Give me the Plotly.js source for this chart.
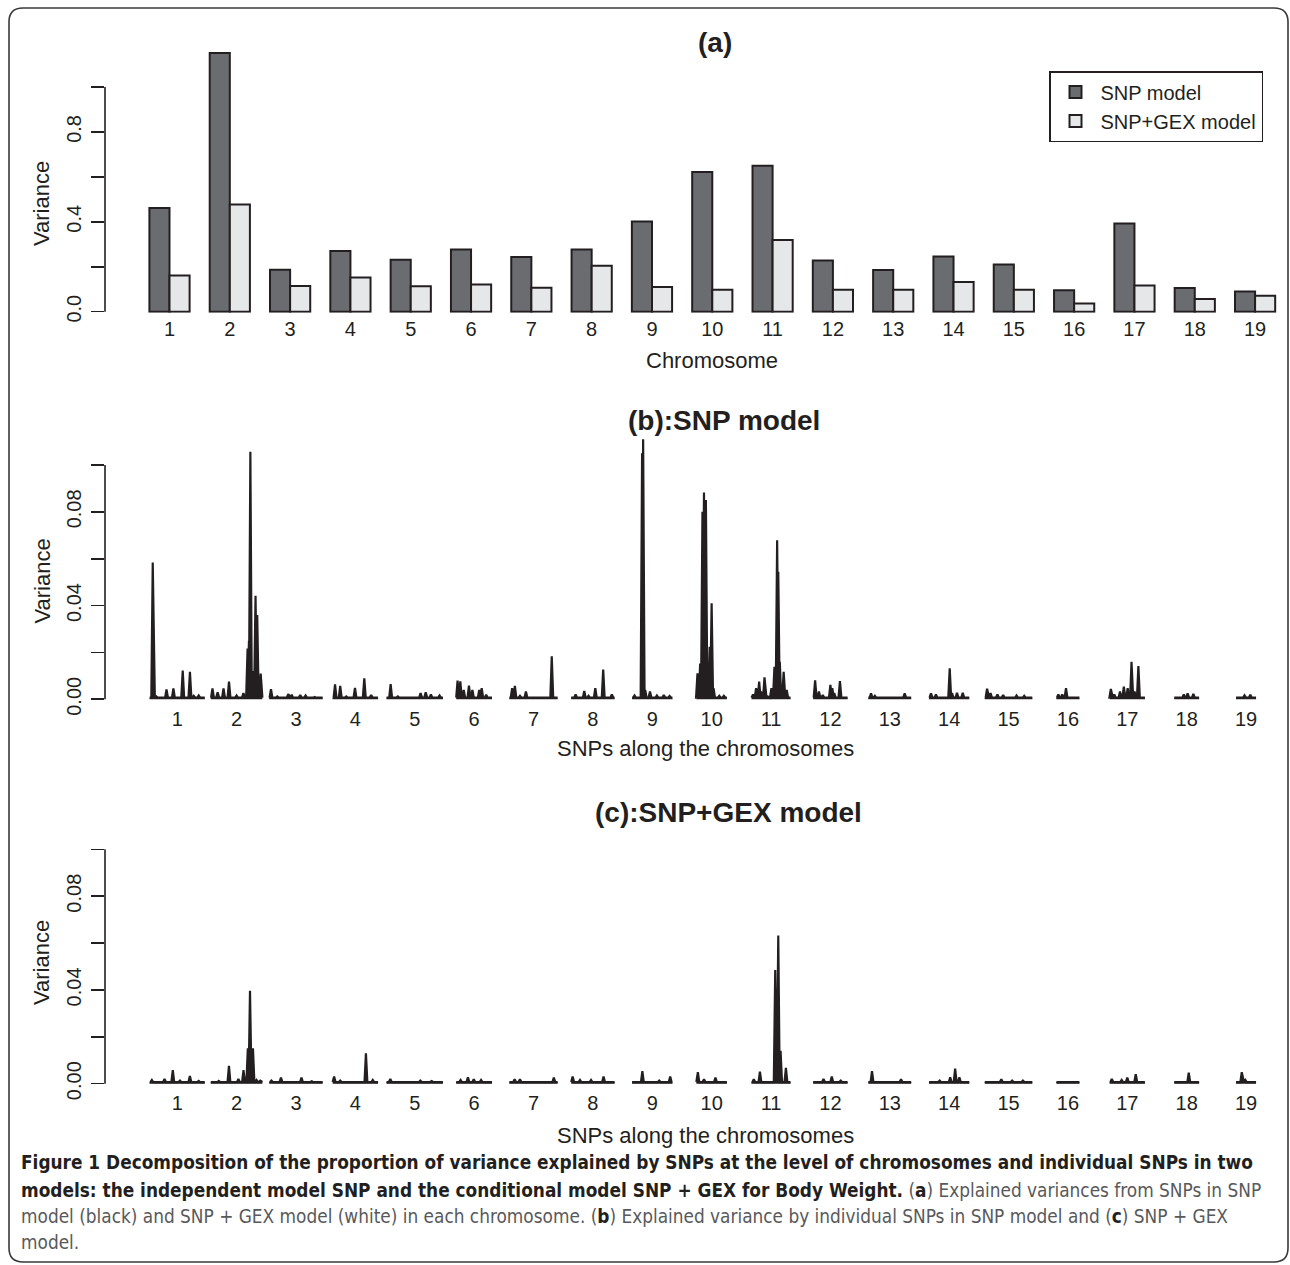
<!DOCTYPE html>
<html><head><meta charset="utf-8">
<script src="https://cdn.plot.ly/plotly-3.0.1.min.js"></script>
<style>html,body{margin:0;padding:0;background:#fff}#chart{width:1290px;height:1265px}</style>
</head><body><div id="chart"></div>
<script>
// ---------------- data ----------------
const chromosomes = [1,2,3,4,5,6,7,8,9,10,11,12,13,14,15,16,17,18,19];
const chromLabels = ['1','2','3','4','5','6','7','8','9','10','11','12','13','14','15','16','17','18','19'];
const seriesNames = ['SNP model', 'SNP+GEX model'];

// (a) variance explained per chromosome
const snpModelChrVar = [0.461,1.151,0.187,0.270,0.231,0.277,0.243,0.277,0.401,0.622,0.650,0.228,0.185,0.246,0.210,0.095,0.393,0.105,0.090];
const gexModelChrVar = [0.161,0.477,0.114,0.152,0.113,0.121,0.107,0.204,0.110,0.098,0.319,0.098,0.098,0.132,0.098,0.036,0.117,0.056,0.071];

// width of each chromosome's block of SNPs (in chromosome units along the x axis)
const chromBlockWidth = [0.928,0.869,0.899,0.765,0.950,0.603,0.812,0.731,0.679,0.515,0.657,0.579,0.721,0.677,0.800,0.387,0.593,0.419,0.337];

// (b) SNP model: peaks [relative position in block, variance]
const snpModelPeaks = [
  [[0.056,0.0584],[0.12,0.0012],[0.306,0.0042],[0.431,0.0046],[0.600,0.0123],[0.731,0.0117],[0.80,0.0015],[0.89,0.0016]],
  [[0.033,0.0046],[0.133,0.0030],[0.247,0.0046],[0.353,0.0076],[0.50,0.0016],[0.633,0.0027],[0.713,0.0217],[0.74,0.0250],[0.767,0.1056],[0.813,0.0120],[0.867,0.0442],[0.90,0.0360],[0.967,0.0110]],
  [[0.032,0.0043],[0.15,0.0012],[0.355,0.0022],[0.42,0.0020],[0.58,0.0018],[0.68,0.0016],[0.85,0.0010]],
  [[0.053,0.0064],[0.167,0.0057],[0.30,0.0012],[0.492,0.0049],[0.697,0.0089],[0.848,0.0018]],
  [[0.073,0.0065],[0.20,0.0012],[0.40,0.0008],[0.604,0.0027],[0.695,0.0030],[0.787,0.0021],[0.94,0.0016]],
  [[0.038,0.0080],[0.115,0.0077],[0.21,0.0040],[0.356,0.0058],[0.452,0.0040],[0.644,0.0040],[0.712,0.0047],[0.837,0.0020]],
  [[0.057,0.0047],[0.114,0.0057],[0.22,0.0015],[0.343,0.0033],[0.55,0.0008],[0.879,0.0183]],
  [[0.103,0.0021],[0.302,0.0035],[0.40,0.0015],[0.556,0.0047],[0.738,0.0127],[0.937,0.0021]],
  [[0.06,0.0016],[0.248,0.1050],[0.274,0.1110],[0.325,0.0040],[0.444,0.0033],[0.615,0.0016],[0.786,0.0018],[0.93,0.0014]],
  [[0.0375,0.0111],[0.125,0.0153],[0.20,0.0800],[0.25,0.0883],[0.3125,0.0850],[0.375,0.0030],[0.4375,0.0224],[0.50,0.0410],[0.5625,0.0047],[0.75,0.0015],[0.90,0.0015]],
  [[0.039,0.0021],[0.118,0.0047],[0.196,0.0075],[0.245,0.0033],[0.333,0.0094],[0.42,0.0012],[0.51,0.0047],[0.588,0.0139],[0.657,0.0679],[0.686,0.0544],[0.725,0.0160],[0.775,0.0047],[0.824,0.0117],[0.902,0.0040]],
  [[0.056,0.0081],[0.167,0.0033],[0.278,0.0018],[0.50,0.0061],[0.556,0.0047],[0.611,0.0026],[0.778,0.0078]],
  [[0.0625,0.0025],[0.152,0.0015],[0.60,0.0010],[0.848,0.0025]],
  [[0.048,0.0025],[0.171,0.0021],[0.514,0.0132],[0.571,0.0026],[0.695,0.0028],[0.838,0.0028]],
  [[0.048,0.0045],[0.121,0.0026],[0.266,0.0021],[0.387,0.0018],[0.669,0.0016],[0.83,0.0015]],
  [[0.083,0.0021],[0.25,0.0021],[0.417,0.0047]],
  [[0.033,0.0044],[0.13,0.0021],[0.293,0.0033],[0.402,0.0054],[0.511,0.0047],[0.62,0.0160],[0.707,0.0033],[0.815,0.0142]],
  [[0.385,0.0021],[0.538,0.0025],[0.769,0.0023]],
  [[0.423,0.0017],[0.712,0.0020]]
];

// (c) SNP+GEX model: peaks [relative position in block, variance]
const gexModelPeaks = [
  [[0.04,0.0016],[0.27,0.0020],[0.42,0.0058],[0.55,0.0013],[0.73,0.0033],[0.89,0.0012]],
  [[0.155,0.0012],[0.352,0.0076],[0.535,0.0020],[0.634,0.0058],[0.718,0.0151],[0.76,0.0396],[0.817,0.0151],[0.887,0.0016],[0.958,0.0013]],
  [[0.041,0.0013],[0.219,0.0026],[0.384,0.0010],[0.603,0.0026],[0.795,0.0010]],
  [[0.033,0.0030],[0.167,0.0013],[0.733,0.0130],[0.883,0.0016]],
  [[0.067,0.0020],[0.60,0.0013],[0.80,0.0011]],
  [[0.122,0.0016],[0.327,0.0027],[0.49,0.0019],[0.694,0.0016]],
  [[0.109,0.0019],[0.219,0.0019],[0.922,0.0026]],
  [[0.034,0.0030],[0.203,0.0016],[0.458,0.0016],[0.746,0.0030]],
  [[0.255,0.0054],[0.673,0.0013],[0.945,0.0030]],
  [[0.05,0.0049],[0.25,0.0019],[0.625,0.0026]],
  [[0.059,0.0019],[0.216,0.0051],[0.608,0.0485],[0.686,0.0632],[0.745,0.0140],[0.882,0.0067]],
  [[0.30,0.0020],[0.54,0.0030],[0.80,0.0013]],
  [[0.085,0.0054],[0.763,0.0019]],
  [[0.263,0.0013],[0.526,0.0027],[0.649,0.0064],[0.754,0.0027]],
  [[0.348,0.0019],[0.576,0.0013],[0.803,0.0013]],
  [[0.50,0.0008]],
  [[0.06,0.0020],[0.34,0.0016],[0.50,0.0026],[0.74,0.0041]],
  [[0.583,0.0047]],
  [[0.286,0.0049],[0.464,0.0016]]
];

// ---------------- helpers (layout only) ----------------
const W = 1290, H = 1265;
const PX = p => p / W;            // pixel x -> paper
const PY = p => 1 - p / H;        // pixel y -> paper
const INK = '#231f20';
const FONT = 'Liberation Sans, Arial, Helvetica, sans-serif';
const BASE = 0.0007;              // thickness of the baseline drawn under each block
const HALF = 0.024;               // half width of one spike (chromosome units)

function spikeTraces(peaks, xa, ya) {
  return chromosomes.map((c, i) => {
    const w = chromBlockWidth[i];
    const x0 = c - w / 2;
    const xs = [x0], ys = [BASE];
    peaks[i].forEach(([f, v]) => {
      const xc = x0 + f * w;
      xs.push(xc - HALF, xc, xc + HALF);
      ys.push(BASE, v, BASE);
    });
    xs.push(x0 + w); ys.push(BASE);
    return {
      type: 'scatter', mode: 'lines', x: xs, y: ys, xaxis: xa, yaxis: ya,
      fill: 'tozeroy', fillcolor: INK, line: {color: INK, width: 2.2},
      showlegend: false, hoverinfo: 'skip'
    };
  });
}

const traces = [
  {type: 'bar', name: seriesNames[0], x: chromosomes, y: snpModelChrVar, xaxis: 'x', yaxis: 'y',
   marker: {color: '#6b6c70', line: {color: INK, width: 2}}},
  {type: 'bar', name: seriesNames[1], x: chromosomes, y: gexModelChrVar, xaxis: 'x', yaxis: 'y',
   marker: {color: '#e6e7e8', line: {color: INK, width: 2}}},
  ...spikeTraces(snpModelPeaks, 'x2', 'y2'),
  ...spikeTraces(gexModelPeaks, 'x3', 'y3')
];

function xAxis(range, anchor, standoff) {
  return {domain: [PX(105), 1], range: range, anchor: anchor, tickmode: 'array',
    tickvals: chromosomes, ticktext: chromLabels, ticks: '', showline: false, zeroline: false,
    showgrid: false, fixedrange: true, ticklabelstandoff: standoff,
    tickfont: {family: FONT, size: 20, color: INK}};
}
function yAxis(domPx, range, vals, text, anchor) {
  return {domain: [PY(domPx[0]), PY(domPx[1])], range: range, anchor: anchor, tickmode: 'array',
    tickvals: vals, ticktext: text, ticks: 'outside', ticklen: 13, tickwidth: 1.6, tickcolor: INK,
    tickangle: -90, showline: false, zeroline: false, showgrid: false, fixedrange: true,
    ticklabelstandoff: 2, tickfont: {family: FONT, size: 20, color: INK}};
}

const smallTicks = [0, 0.02, 0.04, 0.06, 0.08, 0.10];
const smallText = ['0.00', '', '0.04', '', '0.08', ''];

function ann(text, xpx, ypx, size, bold, angle) {
  return {xref: 'paper', yref: 'paper', x: PX(xpx), y: PY(ypx), xanchor: 'center', yanchor: 'middle',
    text: bold ? '<b>' + text + '</b>' : text, showarrow: false, textangle: angle || 0,
    font: {family: FONT, size: size, color: INK}};
}

const CAP_FONT = 'Liberation Sans Narrow, Arial Narrow, DejaVu Sans Condensed, Liberation Sans, sans-serif';
const K = s => '<span style="color:#231f20">' + s + '</span>';
const captionLines = [
  K('<b>Figure 1 Decomposition of the proportion of variance explained by SNPs at the level of chromosomes and individual SNPs in two</b>'),
  K('<b>models: the independent model SNP and the conditional model SNP + GEX for Body Weight.</b>') + ' (' + K('<b>a</b>') + ') Explained variances from SNPs in SNP',
  'model (black) and SNP + GEX model (white) in each chromosome. (' + K('<b>b</b>') + ') Explained variance by individual SNPs in SNP model and (' + K('<b>c</b>') + ') SNP + GEX',
  'model.'
];
const captionY = [1162, 1190, 1216, 1242];
const captionAnns = captionLines.map((t, i) => ({xref: 'paper', yref: 'paper', x: PX(19), y: PY(captionY[i]),
  xanchor: 'left', yanchor: 'middle', text: t, showarrow: false, align: 'left',
  font: {family: CAP_FONT, size: 18.85, color: '#58595b'}}));

// rounded frame
const r = 14, L = 9, T = 8, R = 1288, B = 1262;
const framePath = `M ${PX(L+r)},${PY(T)} L ${PX(R-r)},${PY(T)} Q ${PX(R)},${PY(T)} ${PX(R)},${PY(T+r)} ` +
  `L ${PX(R)},${PY(B-r)} Q ${PX(R)},${PY(B)} ${PX(R-r)},${PY(B)} L ${PX(L+r)},${PY(B)} ` +
  `Q ${PX(L)},${PY(B)} ${PX(L)},${PY(B-r)} L ${PX(L)},${PY(T+r)} Q ${PX(L)},${PY(T)} ${PX(L+r)},${PY(T)} Z`;

const layout = {
  width: W, height: H, margin: {l: 0, r: 0, t: 0, b: 0, pad: 0},
  paper_bgcolor: '#ffffff', plot_bgcolor: 'rgba(0,0,0,0)',
  font: {family: FONT, color: INK},
  barmode: 'group', bargap: 1/3, bargroupgap: 0,
  showlegend: true,
  legend: {x: PX(1049), xanchor: 'left', y: PY(71), yanchor: 'top', bgcolor: '#fff',
    bordercolor: INK, borderwidth: 1.5, font: {family: FONT, size: 20, color: INK},
    itemwidth: 40, tracegroupgap: 0},
  xaxis: xAxis([-0.0695, 19.579], 'y', 2),
  yaxis: yAxis([312.8, 45], [-0.005, 1.187], [0, 0.2, 0.4, 0.6, 0.8, 1.0], ['0.0', '', '0.4', '', '0.8', ''], 'x'),
  xaxis2: xAxis([-0.216, 19.74], 'y2', 2),
  yaxis2: yAxis([702.8, 435], [-0.0015, 0.1128], smallTicks, smallText, 'x2'),
  xaxis3: xAxis([-0.216, 19.74], 'y3', 2),
  yaxis3: yAxis([1087.2, 825], [-0.0015, 0.11037], smallTicks, smallText, 'x3'),
  shapes: [
    {type: 'line', xref: 'paper', yref: 'y', x0: PX(105), x1: PX(105), y0: 0, y1: 1.0, line: {color: INK, width: 1.6}},
    {type: 'line', xref: 'paper', yref: 'y2', x0: PX(105), x1: PX(105), y0: 0, y1: 0.10, line: {color: INK, width: 1.6}},
    {type: 'line', xref: 'paper', yref: 'y3', x0: PX(105), x1: PX(105), y0: 0, y1: 0.10, line: {color: INK, width: 1.6}},
    {type: 'path', xref: 'paper', yref: 'paper', path: framePath, line: {color: '#3a3a3a', width: 1.6}}
  ],
  annotations: [
    ann('(a)', 714.5, 42, 28, true),
    ann('(b):SNP model', 724.5, 420, 28, true),
    ann('(c):SNP+GEX model', 728.5, 812, 28, true),
    ann('Chromosome', 712, 360, 22),
    ann('SNPs along the chromosomes', 705.5, 748, 22),
    ann('SNPs along the chromosomes', 705.5, 1135, 22),
    ann('Variance', 41.5, 203.5, 22, false, -90),
    ann('Variance', 41.5, 581, 22, false, -90),
    ann('Variance', 41.5, 962.5, 22, false, -90),
    ...captionAnns
  ]
};

Plotly.newPlot('chart', traces, layout, {displayModeBar: false, staticPlot: true});
</script>
</body></html>
